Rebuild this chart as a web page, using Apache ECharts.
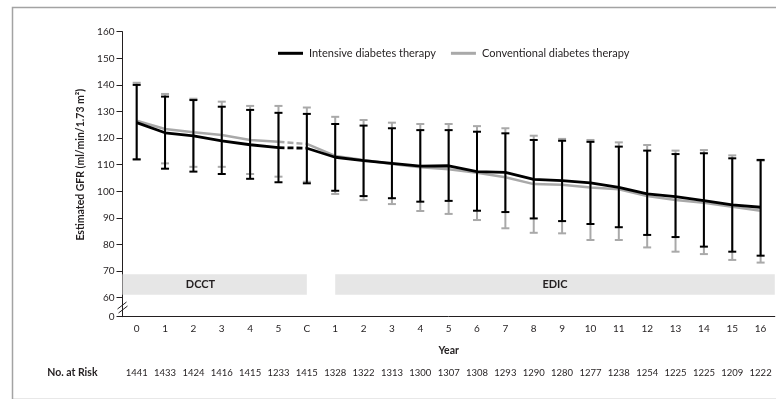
<!DOCTYPE html>
<html>
<head>
<meta charset="utf-8">
<script src="https://cdn.jsdelivr.net/npm/echarts@6/dist/echarts.min.js"></script>
<style>
html,body{margin:0;padding:0;background:#fff;}
#chart{width:776px;height:399px;}
</style>
</head>
<body>
<div id="chart"></div>
<script>
// ---------------- data ----------------
const xLabels = ['0','1','2','3','4','5','C','1','2','3','4','5','6','7','8','9','10','11','12','13','14','15','16'];
const atRisk = [1441,1433,1424,1416,1415,1233,1415,1328,1322,1313,1300,1307,1308,1293,1290,1280,1277,1238,1254,1225,1225,1209,1222];

const intensiveMean = [125.8,122.0,120.8,119.0,117.5,116.4,116.2,112.8,111.5,110.5,109.5,109.6,107.4,107.1,104.5,104.0,103.2,101.5,99.0,98.0,96.5,94.9,94.0];
const intensiveHigh = [140.0,135.6,134.3,131.8,130.6,129.5,129.1,125.3,124.7,123.7,123.0,123.0,122.4,121.8,119.3,119.0,118.6,116.8,115.3,114.0,114.3,112.4,111.8];
const intensiveLow  = [112.0,108.5,107.4,106.5,104.7,103.4,103.0,100.2,98.2,97.4,96.1,96.4,92.7,92.2,89.8,88.8,87.7,86.5,83.6,82.8,79.2,77.3,75.8];

const conventionalMean = [126.5,123.4,122.2,121.2,119.3,118.6,117.8,113.3,111.8,110.3,109.0,108.3,107.0,105.3,102.7,102.5,101.4,100.8,98.2,96.7,95.7,94.2,92.7];
const conventionalHigh = [140.8,136.6,134.8,133.7,132.1,132.1,131.5,128.0,126.8,125.8,125.3,125.3,124.5,123.7,120.9,119.7,119.3,118.4,117.4,115.3,115.5,113.5,111.5];
const conventionalLow  = [112.0,110.5,109.2,109.2,106.5,105.5,103.6,99.0,96.7,95.2,92.6,91.5,89.2,86.1,84.4,84.2,81.7,81.7,78.9,77.3,76.4,74.2,73.2];

const yTickLabels = [0,60,70,80,90,100,110,120,130,140,150,160];

const seriesNames = ['Intensive diabetes therapy','Conventional diabetes therapy'];
const bandNames = ['DCCT','EDIC'];
const bandFrom = [-0.5, 7];     // category positions
const bandTo = [6, 22.5];
const bandLabelAt = [2.25, 14.75];

// ---------------- layout helpers ----------------
const TXT = '#231f20';
const FONT = 'Lato, "Open Sans", sans-serif';
const Y_BOTTOM = 52.86;   // axis value where the broken "0" sits
const closeIdx = xLabels.indexOf('C');

function yTickValue(t){ return t === 0 ? Y_BOTTOM : t; }

function seg(arr, test){ return arr.map((v,i)=> test(i) ? [i, v] : [i, '-']); }

function errRender(color, lw, cap){
  return function(params, api){
    const x = api.value(0);
    const lo = api.coord([x, api.value(1)]);
    const hi = api.coord([x, api.value(2)]);
    const st = {stroke: color, lineWidth: lw};
    return {type:'group', children:[
      {type:'line', shape:{x1:lo[0], y1:lo[1], x2:hi[0], y2:hi[1]}, style: st},
      {type:'line', shape:{x1:lo[0]-cap, y1:lo[1], x2:lo[0]+cap, y2:lo[1]}, style: st},
      {type:'line', shape:{x1:hi[0]-cap, y1:hi[1], x2:hi[0]+cap, y2:hi[1]}, style: st}
    ]};
  };
}

function xPos(api, v){
  let i = Math.round(v);
  i = Math.max(0, Math.min(xLabels.length-1, i));
  const f = v - i;
  return api.coord([i, 0])[0] + f * api.size([1,0])[0];
}

function bandRender(params, api){
  const x0 = xPos(api, api.value(0));
  const x1 = xPos(api, api.value(1));
  const xl = xPos(api, api.value(2));
  const yTop = api.coord([0, 68.8])[1];
  const yBot = api.coord([0, 61.1])[1];
  return {type:'group', children:[
    {type:'rect', shape:{x:x0, y:yTop, width:x1-x0, height:yBot-yTop}, style:{fill:'#e6e6e6'}},
    {type:'text', x: xl, y:(yTop+yBot)/2, style:{text: bandNames[params.dataIndex], fill: TXT, font:'bold 11px ' + FONT, align:'center', verticalAlign:'middle'}}
  ]};
}

const lineStyleFor = (color, w, dashed) => ({color: color, width: w, type: dashed ? [6,3] : 'solid'});

function lineSeries(name, data, color, w, dashed, z){
  return {type:'line', name:name, data:data, symbol:'none', connectNulls:false, z:z,
    lineStyle: lineStyleFor(color, w, dashed), itemStyle:{color: color}, emphasis:{disabled:true}, animation:false};
}

const GRAY = '#a9a9a9';
const BLACK = '#000000';

const chart = echarts.init(document.getElementById('chart'), null, {renderer:'canvas', width:776, height:399});

const option = {
  animation: false,
  backgroundColor: '#fff',
  textStyle: {fontFamily: FONT, color: TXT},
  grid: {left: 122.5, right: 1.2, top: 31.7, bottom: 82.3, containLabel:false},
  legend: {
    left: 278, top: 47.8, padding: 0, itemWidth: 25, itemHeight: 3, itemGap: 15,
    textStyle: {fontSize: 11, color: TXT, fontFamily: FONT, padding:[0,0,0,1]},
    selectedMode: false,
    data: [
      {name: seriesNames[0], icon: 'rect', itemStyle: {color: BLACK}},
      {name: seriesNames[1], icon: 'rect', itemStyle: {color: GRAY}}
    ]
  },
  xAxis: [
    {
      type: 'category', data: xLabels, boundaryGap: true, position: 'bottom',
      axisLine: {lineStyle: {color: TXT, width: 1}},
      axisTick: {alignWithLabel: true, length: 4, lineStyle: {color: TXT}, interval: 0},
      axisLabel: {interval: 0, margin: 7, fontSize: 10, color: TXT, fontFamily: FONT},
      name: 'Year', nameLocation: 'middle', nameGap: 28,
      nameTextStyle: {fontWeight: 'bold', fontSize: 10.5, color: TXT, fontFamily: FONT},
      splitLine: {show: false}
    },
    {
      type: 'category', data: atRisk.map(String), boundaryGap: true, position: 'bottom', offset: 56,
      gridIndex: 0,
      axisLine: {show: false}, axisTick: {show: false},
      axisLabel: {interval: 0, margin: 0, fontSize: 9.5, color: TXT, fontFamily: FONT, verticalAlign: 'middle'},
      name: 'No. at Risk', nameLocation: 'start', nameGap: 25,
      nameTextStyle: {fontWeight: 'bold', fontSize: 10.5, color: TXT, fontFamily: FONT},
      splitLine: {show: false}
    }
  ],
  yAxis: {
    type: 'value', min: Y_BOTTOM, max: 160,
    axisLine: {show: true, lineStyle: {color: TXT, width: 1}},
    axisTick: {show: true, length: 6, lineStyle: {color: TXT}, customValues: yTickLabels.map(yTickValue)},
    axisLabel: {fontSize: 10, color: TXT, margin: 8, fontFamily: FONT,
      customValues: yTickLabels.map(yTickValue),
      formatter: function(v){ return v < 59 ? '0' : String(Math.round(v)); }},
    splitLine: {show: false},
    name: 'Estimated GFR (ml/min/1.73 m\u00B2)', nameLocation: 'middle', nameGap: 36, nameRotate: 90,
    nameTextStyle: {fontWeight: 'bold', fontSize: 10.5, color: TXT, fontFamily: FONT, padding: [0,0,0,19]}
  },
  series: [
    {type:'custom', name:'bands', silent:true, z:1, renderItem: bandRender,
      data: bandNames.map((n,i)=>[bandFrom[i], bandTo[i], bandLabelAt[i]]), encode:{x:[0,1]}},
    // conventional
    {type:'custom', name: seriesNames[1], z:2, silent:true, renderItem: errRender(GRAY, 2, 4),
      data: xLabels.map((_,i)=>[i, conventionalLow[i], conventionalHigh[i]]), encode:{x:0, y:[1,2]}},
    lineSeries(seriesNames[1], seg(conventionalMean, i=> i<=closeIdx-1), GRAY, 2.5, false, 3),
    lineSeries(seriesNames[1], seg(conventionalMean, i=> i>=closeIdx), GRAY, 2.5, false, 3),
    lineSeries(seriesNames[1], seg(conventionalMean, i=> i===closeIdx-1 || i===closeIdx), GRAY, 2.5, true, 3),
    // intensive
    {type:'custom', name: seriesNames[0], z:4, silent:true, renderItem: errRender(BLACK, 2, 4),
      data: xLabels.map((_,i)=>[i, intensiveLow[i], intensiveHigh[i]]), encode:{x:0, y:[1,2]}},
    lineSeries(seriesNames[0], seg(intensiveMean, i=> i<=closeIdx-1), BLACK, 2.8, false, 5),
    lineSeries(seriesNames[0], seg(intensiveMean, i=> i>=closeIdx), BLACK, 2.8, false, 5),
    lineSeries(seriesNames[0], seg(intensiveMean, i=> i===closeIdx-1 || i===closeIdx), BLACK, 2.8, true, 5)
  ]
};
chart.setOption(option);

// frame and axis-break marks
const axX = chart.convertToPixel({xAxisIndex:0}, 0) - chart.getModel().getComponent('xAxis',0).axis.getBandWidth()/2;
const brY = chart.convertToPixel({yAxisIndex:0}, 56.5);
chart.setOption({
  graphic: [
    {type:'rect', left:10, top:5, silent:true, z:-10, shape:{width:800, height:392}, style:{fill:'none', stroke:'#a3a3a3', lineWidth:1.5}},
    {type:'line', silent:true, z:100, shape:{x1:axX-5, y1:brY+2, x2:axX+4, y2:brY-5}, style:{stroke:TXT, lineWidth:1}},
    {type:'line', silent:true, z:100, shape:{x1:axX-4, y1:brY+6, x2:axX+5, y2:brY-1}, style:{stroke:TXT, lineWidth:1}}
  ]
});
</script>
</body>
</html>
